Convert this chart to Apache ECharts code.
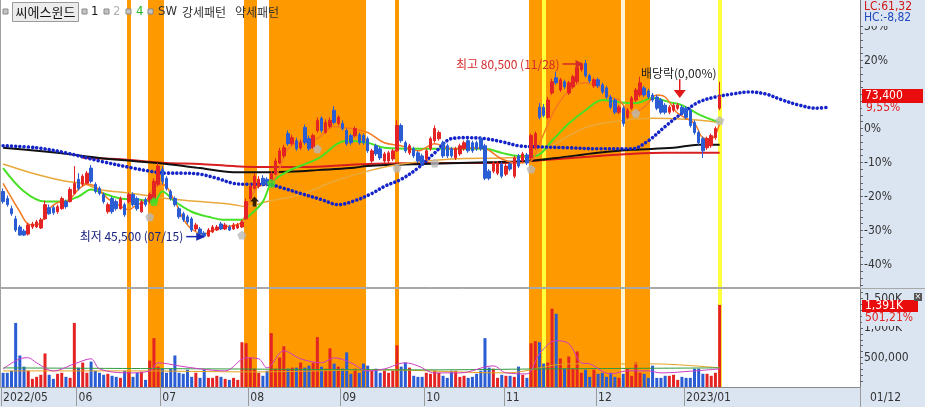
<!DOCTYPE html>
<html><head><meta charset="utf-8">
<script src="https://cdn.jsdelivr.net/npm/echarts@6/dist/echarts.min.js"></script>
<style>
html,body{margin:0;padding:0;background:#fff;}
#wrap{position:relative;width:925px;height:407px;overflow:hidden;}
#bgR{position:absolute;left:861px;top:0;width:64px;height:388px;background:#dbe5f1;}
#bgB{position:absolute;left:0;top:388px;width:925px;height:19px;background:#dbe5f1;}
#c{position:absolute;left:0;top:0;width:925px;height:407px;}
</style>
</head><body>
<div id="wrap"><div id="bgR"></div><div id="bgB"></div><div id="c"></div></div>
<script>
// ---------------- DATA ----------------
const basePrice = 67000;           // 0% reference
const lastPrice = 73400;
const lastVolume = 1391000;
// [open, close, low, high] per trading day, 2022/05/06 .. 2023/01/12
const candles = [
[54600,52600,52200,55200],[53200,52000,51600,53800],[51200,50200,49800,51800],[49200,47000,46600,49800],[47600,46000,45900,48000],
[46800,46000,45800,47200],[46200,48000,45900,48400],[47600,48200,47200,48600],[47600,48600,47400,49000],[47400,49000,47200,49400],
[49200,52000,49000,52800],[51400,50200,50000,52000],[51400,50400,50000,51800],[50600,51600,50200,52000],[51200,53200,51000,53600],
[52600,51600,51200,53000],[52600,55000,52400,55400],[54200,56200,54000,59600],[57000,55200,54800,58200],[56000,57600,55600,58000],
[56200,58200,56000,58600],[59200,56600,56200,59800],[56000,54600,54200,56400],[55200,54200,53800,55600],[54000,52600,52200,54400],
[50600,52000,50200,52400],[53200,50600,50200,53600],[52600,51200,50800,53000],[51200,53200,51000,53600],[52000,50000,49600,52400],
[52600,54000,52200,54400],[54000,52000,51600,54400],[53200,51200,50800,53600],[50600,52600,50400,53000],[53000,52000,51600,53400],
[52600,54000,52200,54400],[53200,56600,53000,57200],[56000,59600,55600,60200],[59000,56600,56000,59600],[57200,55200,54800,57600],
[54600,53200,52800,55000],[53200,52000,51600,53600],[51200,49600,49200,51600],[50200,49000,48600,50600],[49600,48600,48200,50000],
[49200,47000,46600,49600],[47200,48000,46800,48400],[47200,46200,45800,47600],[46400,45800,45500,46800],[45800,47000,45600,47400],
[46600,47600,46400,48000],[47000,47600,46800,48000],[48200,47200,47000,48600],[47200,48000,47000,48400],[47600,47000,46800,48000],
[47200,48000,47000,48400],[47400,48000,47200,48400],[47600,48600,47400,49000],[49200,52600,49000,53200],[53200,55600,53000,56200],
[55200,57600,55000,58200],[55600,57000,55200,57600],[57200,56000,55600,57800],[57000,56000,55600,57400],[56600,58200,56200,58600],
[58000,60600,57800,61200],[60200,62600,60000,63200],[61600,63200,61200,63800],[66000,64000,63600,66600],[64000,65200,63600,65800],
[64600,63000,62600,65200],[63200,64200,62800,64800],[67200,64200,63800,67800],[65000,63000,62600,65600],[63200,65600,63000,66000],
[66600,68600,66200,69200],[69000,66600,66200,69400],[66200,68200,66000,68800],[67400,68600,67000,69200],[70600,68200,67800,71400],
[68000,69200,67600,69600],[68000,67000,66600,68600],[66600,64000,63600,67000],[65600,64200,63800,66000],[65600,67000,65200,67400],
[65800,64200,63800,66200],[65600,64200,63800,66000],[65000,62600,62200,65400],[60600,62600,60200,63000],[63600,62000,61600,64000],
[63000,61200,60800,63400],[60600,62000,60200,62400],[60600,62200,60200,62600],[61000,62600,60600,63000],[62600,67600,62400,68600],
[67600,64600,64200,68000],[64200,62600,62200,64600],[62200,63600,61800,64000],[63000,61600,61200,63400],[62200,60600,60200,62600],
[61600,60000,59600,62000],[61000,62600,60600,63000],[63000,65000,62600,65400],[64600,67000,64200,67600],[65000,66200,64600,66600],
[64200,61600,61200,64600],[63600,61600,61200,64000],[63000,61600,61200,63400],[61200,63000,60800,63400],[62000,63600,61600,64000],
[63000,64200,62600,64600],[64600,62600,62200,65000],[64200,62600,62200,64600],[64200,63000,62600,64600],[65000,63000,62600,65400],
[63600,57200,56800,64000],[58600,57200,56800,59000],[58600,60200,58200,60600],[58200,60200,57800,60600],[60000,57600,57200,60400],
[58000,59600,57600,60000],[60000,59000,58600,60400],[57600,61200,57200,61600],[61600,59600,59200,62000],[60600,62000,60200,62400],
[61800,60200,59800,62200],[61200,65600,60800,66000],[63200,66000,62800,66400],[71200,69200,68800,72000],[71200,69600,69200,71800],
[69200,72600,68800,73200],[74000,76200,73600,76800],[77000,76000,75600,78200],[74600,76600,74200,77000],[76200,75200,74800,76600],
[74000,76000,73600,76400],[75200,77200,74800,77600],[76200,79000,75800,79400],[78600,79600,78200,80000],[79800,77400,77000,80500],
[77400,76400,76000,77800],[75400,76600,75000,77000],[76600,75400,75000,77000],[75600,74200,73800,76000],[75000,73200,72800,75400],
[73200,71200,70800,73600],[72600,70200,69800,73000],[70200,71200,69800,71600],[71000,68000,67400,71400],[69200,70600,68800,71000],
[71000,73000,70600,73400],[72600,74600,72200,75000],[73600,76000,73200,77200],[75000,73600,73200,75400],[74400,73200,72800,74800],
[73600,72600,72200,74000],[73200,71000,70600,73600],[72600,70200,69800,73000],[71600,70200,69800,72000],[70200,71200,69800,71600],
[70600,71600,70200,72000],[71000,71600,70600,72000],[71200,70000,69600,71600],[71000,69200,68800,71400],[70600,67600,67200,71000],
[68200,66200,65800,68600],[66200,64200,63800,66600],[65000,62600,61200,65400],[63200,65000,62800,65400],[63600,65600,63200,66000],
[65200,67000,64800,67400],[71000,73400,70600,76200]
];
const volumes = [
241000,241000,276000,1086000,534000,345000,276000,138000,172000,207000,
569000,207000,138000,224000,241000,172000,155000,1086000,328000,414000,
241000,431000,276000,241000,207000,224000,190000,172000,155000,276000,
259000,172000,241000,259000,121000,448000,828000,345000,310000,241000,
310000,534000,241000,224000,293000,172000,241000,155000,293000,155000,
155000,190000,172000,138000,121000,155000,121000,759000,741000,500000,
310000,241000,190000,276000,914000,310000,500000,690000,310000,328000,
328000,414000,328000,362000,414000,845000,345000,310000,655000,397000,
345000,310000,586000,224000,310000,241000,397000,362000,276000,310000,
241000,276000,241000,276000,707000,345000,414000,328000,190000,172000,
172000,241000,224000,276000,241000,190000,155000,276000,276000,172000,
190000,155000,172000,224000,276000,828000,328000,310000,155000,207000,
190000,190000,172000,345000,207000,155000,741000,776000,759000,397000,
414000,1328000,1241000,483000,310000,517000,310000,603000,241000,293000,
172000,293000,224000,241000,172000,241000,172000,155000,224000,310000,
190000,414000,241000,224000,155000,362000,155000,155000,190000,190000,
207000,121000,172000,155000,155000,310000,310000,224000,224000,190000,
241000,1391000
];
const monthLabels = [[0,'2022/05'],[18,'06'],[38,'07'],[59,'08'],[81,'09'],[101,'10'],[120,'11'],[142,'12'],[163,'2023/01']];
const futureSlots = 33;
const currentDateLabel = '01/12';
// moving-average style lines: [dayIndex, price]
const ma5 = [[0,56200],[4,50600],[6,48200],[8,48000],[10,49600],[11,51200],[14,52600],[15,52600],[18,55000],[20,56000],[22,55600],[25,53200],[27,52200],[30,51000],[32,52000],[34,52600],[36,55200],[38,56000],[41,52600],[43,49200],[45,47200],[48,46200],[50,47000],[53,47600],[57,48600],[59,53200],[61,55600],[64,56200],[66,59200],[68,63000],[71,64400],[75,65000],[79,67400],[83,67000],[87,66200],[91,64200],[95,63600],[99,62600],[103,64000],[107,63000],[111,63200],[115,63000],[119,61000],[123,60200],[126,60600],[128,64000],[132,71200],[136,75200],[139,76000],[142,75200],[145,73200],[147,72600],[150,70000],[153,71200],[156,73600],[158,73200],[161,70000],[165,68000],[167,65200],[169,65000],[170,65800],[171,68000]];
const ma20 = [[0,59200],[5,54600],[10,52600],[14,52600],[18,53600],[21,55000],[24,54200],[28,53200],[32,53000],[36,52600],[38,54600],[41,52600],[45,50600],[49,49600],[53,49000],[57,49000],[59,50000],[62,52600],[64,56200],[68,58600],[75,61000],[82,64600],[87,64200],[91,63200],[99,63000],[107,63000],[115,63000],[119,62200],[123,61600],[127,61600],[131,64600],[135,68000],[139,70600],[143,72600],[147,72200],[151,72000],[155,73000],[159,72200],[162,71600],[166,69800],[171,68200]];
const ma60 = [[0,60000],[7,58200],[15,56600],[19,56200],[23,55000],[31,54200],[39,53200],[47,52600],[55,52000],[58,51600],[63,52600],[71,54000],[79,56600],[87,58600],[95,60000],[107,61000],[119,61200],[126,61400],[129,62600],[139,67200],[148,68600],[155,69000],[163,68800],[171,68200]];
const ma120 = [[0,63200],[8,62600],[15,62000],[23,61200],[31,60600],[39,60000],[47,59200],[55,58400],[63,58400],[71,58600],[75,58800],[83,59200],[87,59600],[100,60000],[118,60400],[125,60600],[132,61200],[142,62200],[150,62800],[160,63200],[166,63800],[171,63800]];
const ma240 = [[19,61200],[27,61000],[39,60200],[47,60000],[55,59600],[63,59400],[71,59400],[87,60000],[107,60200],[119,60200],[126,60600],[142,61600],[150,62000],[158,62200],[171,62200]];
const leadLine = [[0,63600],[8,63200],[15,62200],[23,60600],[31,59200],[35,58600],[39,58200],[43,58200],[47,58000],[51,57200],[55,56200],[59,56000],[63,56000],[67,55200],[71,54200],[76,53000],[80,52000],[84,52800],[88,54200],[91,55600],[95,57000],[99,59200],[103,62200],[107,65000],[111,65200],[115,65000],[119,64400],[123,63600],[127,63400],[135,63200],[142,63000],[150,63000],[154,64600],[158,67400],[162,70000],[166,72200],[170,73200],[174,73800],[178,74200],[182,73800],[186,72600],[190,71600],[194,71000],[197,71200]];
const volMa5 = [[0,307000],[4,478000],[6,495000],[8,410000],[12,273000],[17,392000],[21,478000],[23,307000],[30,239000],[35,273000],[37,410000],[42,358000],[47,307000],[53,273000],[58,495000],[61,478000],[63,324000],[67,614000],[71,478000],[76,410000],[79,495000],[83,410000],[87,273000],[91,307000],[96,410000],[99,358000],[103,239000],[109,239000],[117,358000],[120,239000],[125,222000],[128,563000],[132,785000],[135,734000],[138,410000],[140,392000],[145,222000],[149,273000],[154,273000],[157,239000],[165,273000],[171,307000]];
const volMa20 = [[0,324000],[50,307000],[100,290000],[130,307000],[171,324000]];
const volMa60 = [[0,273000],[30,273000],[60,256000],[90,290000],[120,239000],[135,392000],[155,392000],[171,324000]];
// pattern highlight ranges [firstDay, lastDay, kind]  kind: 0 strong, 1 marker day, 2 pale gap
const patternRanges = [[30,30,0],[35,38,0],[58,60,0],[64,86,0],[94,94,0],[126,147,0],[148,148,2],[149,154,0],[129,129,1],[171,171,1]];
// signal markers [dayIndex, price]
const graySignals = [[35,49600],[57,46000],[75,63000],[94,59200],[103,60200],[126,59000],[151,70000],[171,68600]];
const greenSignals = [[36,52600],[64,56200]];
const buyArrows = [[60,52600]];
const highMark = {idx:139, price:80500, text:'최고 80,500 (11/28)'};
const lowMark = {idx:48, price:45500, text:'최저 45,500 (07/15)'};
const divMark = {idx:161, price:72000, text:'배당락(0,00%)'};
const pctLabels = [-40,-30,-20,-10,0,10,20,30];
const volLabels = [500000,1000000,1500000];

// ---------------- CHART ----------------
const NUM = "'Liberation Sans Narrow','DejaVu Sans Condensed','Arial Narrow',sans-serif";
const KR = "'Noto Sans CJK KR','Noto Sans',sans-serif";
const BG = '#dbe5f1';
const UP = '#e42424', DOWN = '#2a5cd4';

const nSlots = candles.length + futureSlots;
const cats = Array.from({length:nSlots}, (_, i) => String(i));
const monthMap = {}; monthLabels.forEach(([i, t]) => monthMap[i] = t);
const isMonth = (i) => monthMap[i] !== undefined;

const bandFill = ['#ff9900', '#ffff3a', '#fff3d2'];
function bandItem(params, api) {
  const w = api.size([1, 0])[0];
  const x0 = Math.round(api.coord([api.value(0), 0])[0] - w / 2);
  const x1 = Math.round(api.coord([api.value(1), 0])[0] + w / 2);
  const cs = params.coordSys;
  return {type:'rect', shape:{x:x0, y:cs.y, width:x1 - x0, height:cs.height}, style:{fill:bandFill[api.value(2)]}};
}
const volData = volumes.map((v, i) => ({value:v, itemStyle:{color: candles[i][1] >= candles[i][0] ? UP : DOWN}}));

const pctTicks = []; for (let p = -46; p <= 36; p += 2) pctTicks.push(p);
const volTicks = []; for (let v = 100000; v <= 1600000; v += 100000) volTicks.push(v);
const fmtVol = v => v >= 1000000 ? (v / 1000).toLocaleString('en-US') + 'K' : v.toLocaleString('en-US');

const line = (data, color, width, z) => ({type:'line', xAxisIndex:0, yAxisIndex:0, data, showSymbol:false, smooth:0.35, silent:true, z,
  lineStyle:{color, width}});
const vline = (data, color) => ({type:'line', xAxisIndex:1, yAxisIndex:1, data, showSymbol:false, smooth:0.35, silent:true, z:6,
  lineStyle:{color, width:1}});
const pentagon = 'path://M5,0 L10,4 L8,10 L2,10 L0,4 Z';

const chart = echarts.init(document.getElementById('c'), null, {renderer:'canvas'});
const option = {
  animation:false,
  backgroundColor:'transparent',
  grid:[
    {left:1, right:65, top:0, height:287, containLabel:false, outerBoundsMode:'none'},
    {left:1, right:65, top:289, height:98, containLabel:false, outerBoundsMode:'none'}
  ],
  xAxis:[
    {type:'category', gridIndex:0, data:cats, boundaryGap:true,
     axisLine:{show:true, lineStyle:{color:'#a8a8a8'}}, axisTick:{show:false}, axisLabel:{show:false}, splitLine:{show:false}},
    {type:'category', gridIndex:1, data:cats, boundaryGap:true,
     axisLine:{show:true, lineStyle:{color:'#8a8a8a'}},
     axisTick:{show:true, interval:(i) => isMonth(i), length:19, lineStyle:{color:'#9a9a9a'}},
     axisLabel:{show:true, interval:(i) => isMonth(i), formatter:(v, i) => monthMap[i] || '', align:'left', margin:5,
       color:'#333', fontSize:12, fontFamily:NUM},
     splitLine:{show:false}}
  ],
  yAxis:[
    {type:'value', gridIndex:0, position:'right', min:35775, max:92315, scale:true, splitLine:{show:false},
     axisLine:{show:true, lineStyle:{color:'#7a7a7a'}},
     axisTick:{show:true, length:3, customValues:pctTicks.map(p => basePrice * (1 + p / 100)), lineStyle:{color:'#666'}},
     axisLabel:{show:true, customValues:pctLabels.map(p => basePrice * (1 + p / 100)), margin:4,
       formatter:v => Math.round((v / basePrice - 1) * 100) + '%', color:'#333', fontSize:12, fontFamily:NUM}},
    {type:'value', gridIndex:1, position:'right', min:0, max:1661000, splitLine:{show:false},
     axisLine:{show:true, lineStyle:{color:'#7a7a7a'}},
     axisTick:{show:true, length:3, customValues:volTicks, lineStyle:{color:'#666'}},
     axisLabel:{show:true, customValues:volLabels, margin:4, formatter:fmtVol, color:'#333', fontSize:12, fontFamily:NUM}}
  ],
  series:[
    {type:'custom', xAxisIndex:0, yAxisIndex:0, renderItem:bandItem, data:patternRanges, z:1, silent:true, encode:{x:[0,1]}},
    {type:'custom', xAxisIndex:1, yAxisIndex:1, renderItem:bandItem, data:patternRanges, z:1, silent:true, encode:{x:[0,1]}},
    line(ma240, '#d81e1e', 2, 3),
    line(ma120, '#111111', 2, 3),
    line(ma60, '#e9a93a', 1.5, 3),
    line(ma20, '#46e024', 2, 3),
    line(ma5, '#f4791f', 1.5, 3),
    {type:'line', xAxisIndex:0, yAxisIndex:0, data:leadLine, showSymbol:false, smooth:0.35, silent:true, z:4,
     lineStyle:{color:'#1424c8', width:3.6, type:[0.01, 4.19], cap:'round'}},
    {type:'candlestick', id:'k', xAxisIndex:0, yAxisIndex:0, data:candles, barWidth:3, z:5, silent:true,
     itemStyle:{color:UP, color0:DOWN, borderColor:UP, borderColor0:DOWN, borderWidth:1}},
    {type:'scatter', xAxisIndex:0, yAxisIndex:0, data:graySignals, symbol:pentagon, symbolSize:[9, 9], z:7, silent:true,
     itemStyle:{color:'#b9b9b9'}},
    {type:'scatter', xAxisIndex:0, yAxisIndex:0, data:greenSignals, symbol:pentagon, symbolSize:[9, 9], z:7, silent:true,
     itemStyle:{color:'#3fe02a'}},
    {type:'scatter', xAxisIndex:0, yAxisIndex:0, data:buyArrows, symbol:'path://M5,0 L10,5 L7,5 L7,10 L3,10 L3,5 L0,5 Z',
     symbolSize:[9, 10], z:7, silent:true, itemStyle:{color:'#000'}},
    {type:'bar', xAxisIndex:1, yAxisIndex:1, data:volData, barWidth:3, z:5, silent:true},
    vline(volMa60, '#e3a21c'),
    vline(volMa20, '#2f9a3c'),
    vline(volMa5, '#cc3cc4')
  ]
};
chart.setOption(option);

// ---------------- OVERLAYS (positioned through the chart's scales) ----------------
const toPx = (i, p) => chart.convertToPixel({seriesId:'k'}, [i, p]);
const priceY = p => chart.convertToPixel({yAxisIndex:0}, p);
const volY = v => chart.convertToPixel({yAxisIndex:1}, v);
const T = (text, x, y, fill, font, align) => ({type:'text', x, y, z:100, silent:true,
  style:{text, fill, font, textAlign:align || 'left', textVerticalAlign:'middle', align:align || 'left', verticalAlign:'middle'}});
const R = (x, y, w, h, fill, stroke) => ({type:'rect', z:99, silent:true, shape:{x, y, width:w, height:h},
  style:{fill, stroke:stroke || null, lineWidth:1}});
const L = (x1, y1, x2, y2, stroke, lw) => ({type:'line', z:100, silent:true, shape:{x1, y1, x2, y2}, style:{stroke, lineWidth:lw || 1}});
const P = (pts, fill) => ({type:'polygon', z:100, silent:true, shape:{points:pts}, style:{fill}});

const g = [];
// frame lines
g.push(L(0.5, 0, 0.5, 388, '#a0a0a0'));
g.push(L(0, 288.5, 925, 288.5, '#a8a8a8'));
g.push(L(860.5, 388, 860.5, 407, '#9a9a9a'));
g.push(T(currentDateLabel, 870, 398, '#333', '12px ' + NUM));
// legend
const sq = x => R(x, 9, 5, 5, '#c4c4c4', '#8a8a8a');
g.push(sq(3));
g.push(R(12.5, 2.5, 66, 19, '#ececec', '#9a9a9a'));
g.push(T('씨에스윈드', 45.5, 12, '#111', '13px ' + KR, 'center'));
g.push(sq(82)); g.push(T('1', 91, 12, '#111', '13px ' + NUM));
g.push(sq(104)); g.push(T('2', 113, 12, '#b0b0b0', '13px ' + NUM));
g.push(sq(126)); g.push(T('4', 136, 12, '#22b822', '13px ' + NUM));
g.push(sq(148)); g.push(T('SW', 158, 12, '#333', '13px ' + NUM));
g.push(T('강세패턴', 182, 12, '#333', '12px ' + KR));
g.push(T('약세패턴', 235, 12, '#333', '12px ' + KR));
// right-side info
g.push(R(861, 0, 64, 26, BG));
g.push(T('LC:61,32', 864, 7, '#d01818', '12px ' + NUM));
g.push(T('HC:-8,82', 864, 18, '#2448c0', '12px ' + NUM));
const ly = priceY(lastPrice);
g.push(R(862, ly - 7, 61, 14, '#e80c0c'));
g.push(T(lastPrice.toLocaleString('en-US'), 865, ly, '#fff', '12px ' + NUM));
g.push(R(862, ly + 7, 61, 10, BG));
g.push(T('9,55%', 866, ly + 12, '#e02020', '12px ' + NUM));
const vy = volY(lastVolume);
g.push(R(862, vy - 5, 56, 12, '#e80c0c'));
g.push(T(fmtVol(lastVolume), 865, vy + 1, '#fff', '12px ' + NUM));
g.push(R(862, vy + 7, 61, 14, BG));
g.push(T('501,21%', 865, vy + 13, '#e02020', '12px ' + NUM));
g.push(R(914, 293, 8, 8, '#555'));
g.push(T('×', 918, 297, '#fff', '9px ' + NUM, 'center'));
// high annotation
const [hx, hy] = toPx(highMark.idx, highMark.price);
g.push(T(highMark.text, hx - 26, hy + 4, '#d42a2a', '12px ' + KR, 'right'));
g.push(L(hx - 23, hy + 4, hx - 8, hy + 4, '#d42a2a', 1.5));
g.push(P([[hx - 2, hy + 4], [hx - 10, hy], [hx - 10, hy + 8]], '#d42a2a'));
// low annotation
const [lx, lyy] = toPx(lowMark.idx, lowMark.price);
g.push(T(lowMark.text, lx - 21, lyy - 1, '#1a237e', '12px ' + KR, 'right'));
g.push(L(lx - 18, lyy - 1, lx - 6, lyy - 1, '#1a2ab0', 1.5));
g.push(P([[lx + 1, lyy - 1], [lx - 8, lyy - 5], [lx - 8, lyy + 3]], '#1a2ab0'));
// ex-dividend annotation
const [dx, dy] = toPx(divMark.idx, divMark.price);
g.push(T(divMark.text, dx + 1, dy - 30, '#222', '12px ' + KR, 'center'));
g.push(L(dx + 2, dy - 24, dx + 2, dy - 12, '#e01818', 1.5));
g.push(P([[dx + 2, dy - 5], [dx - 4, dy - 13], [dx + 8, dy - 13]], '#e01818'));
chart.setOption({graphic:{elements:g}});
</script>
</body></html>
